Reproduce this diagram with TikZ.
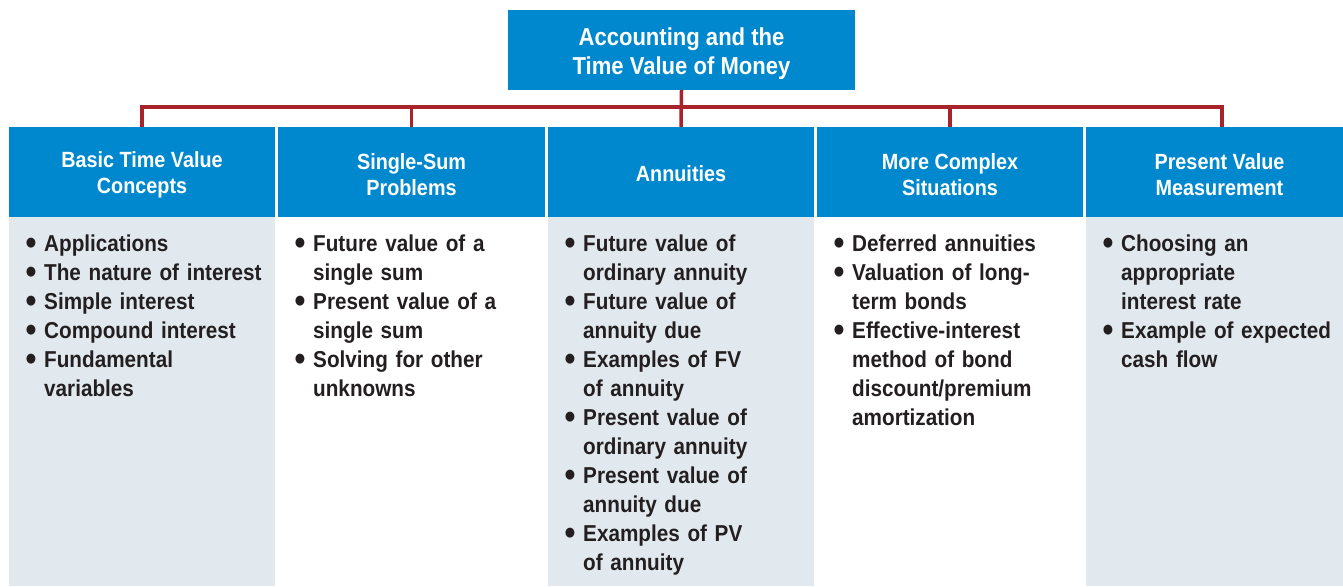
\documentclass[tikz,border=0pt]{standalone}
\usepackage{fontspec}
\setmainfont{Liberation Sans}[FakeStretch=0.9]
\definecolor{hblue}{HTML}{0088CF}
\definecolor{lightbody}{HTML}{E1E9EF}
\definecolor{busred}{HTML}{A9232B}
\definecolor{ink}{HTML}{231F20}
\newcommand{\bitem}[1]{\hangindent=16pt\hangafter=1\noindent\makebox[16pt][l]{\hspace*{-2.5pt}\raisebox{-3.6pt}{\scalebox{1.5}{\textbullet}}}#1\par}
\tikzset{
  topbox/.style={fill=hblue, minimum width=347pt, minimum height=80pt, inner sep=0pt},
  toptext/.style={text=white, font=\bfseries\fontsize{24.5}{29}\selectfont, align=center, inner sep=0pt},
  headbox/.style={fill=hblue, minimum height=90pt, inner sep=0pt},
  headtext/.style={text=white, font=\bfseries\fontsize{22}{26}\selectfont, align=center, inner sep=0pt},
  bodytext/.style={text=ink, font=\bfseries\fontsize{23}{29}\selectfont, align=left, text width=250pt, inner sep=0pt, anchor=base west},
  conn/.style={draw=busred, line width=3.5pt},
}
\begin{document}
\begin{tikzpicture}[x=1pt,y=-1pt]
\useasboundingbox (0,0) rectangle (1343,586);
% bodies
\fill[lightbody] (9,217) rectangle (275,586);
\fill[lightbody] (548,217) rectangle (814,586);
\fill[lightbody] (1086,217) rectangle (1343,586);
% top box
\node[topbox] (topbg) at (681.5,50) {};
\node[toptext] (top) at (681.5,54) {Accounting and the\\Time Value of Money};
% header boxes
\node[headbox, minimum width=266pt] (h1) at (142,172) {};
\node[headbox, minimum width=267pt] (h2) at (411.5,172) {};
\node[headbox, minimum width=266pt] (h3) at (681,172) {};
\node[headbox, minimum width=266pt] (h4) at (950,172) {};
\node[headbox, minimum width=257pt] (h5) at (1214.5,172) {};
\node[headtext] (t1) at ([yshift=-3pt]h1.center) {Basic Time Value\\Concepts};
\node[headtext] (t2) at ([yshift=-3pt]h2.center) {Single-Sum\\Problems};
\node[headtext] (t3) at ([yshift=-2pt]h3.center) {Annuities};
\node[headtext] (t4) at ([yshift=-3pt]h4.center) {More Complex\\Situations};
\node[headtext] (t5) at ([xshift=5pt,yshift=-3pt]h5.center) {Present Value\\Measurement};
% connectors
\coordinate (bus) at (0,107);
\coordinate (c5) at (1222,127);
\draw[conn] (h1.north) -- (h1.north |- bus) -- (c5 |- bus) -- (c5);
\draw[conn] (topbg.south) -- (h3.north);
\draw[conn] (h2.north) -- (h2.north |- bus);
\draw[conn] (h4.north) -- (h4.north |- bus);
% body texts
\node[bodytext] (b1) at (28,251) {\bitem{Applications}\bitem{The nature of interest}\bitem{Simple interest}\bitem{Compound interest}\bitem{Fundamental\newline variables}};
\node[bodytext] (b2) at (297,251) {\bitem{Future value of a\newline single sum}\bitem{Present value of a\newline single sum}\bitem{Solving for other\newline unknowns}};
\node[bodytext] (b3) at (567,251) {\bitem{Future value of\newline ordinary annuity}\bitem{Future value of\newline annuity due}\bitem{Examples of FV\newline of annuity}\bitem{Present value of\newline ordinary annuity}\bitem{Present value of\newline annuity due}\bitem{Examples of PV\newline of annuity}};
\node[bodytext] (b4) at (836,251) {\bitem{Deferred annuities}\bitem{Valuation of long-\newline term bonds}\bitem{Effective-interest\newline method of bond\newline discount/premium\newline amortization}};
\node[bodytext] (b5) at (1105,251) {\bitem{Choosing an\newline appropriate\newline interest rate}\bitem{Example of expected\newline cash flow}};
\end{tikzpicture}
\end{document}
